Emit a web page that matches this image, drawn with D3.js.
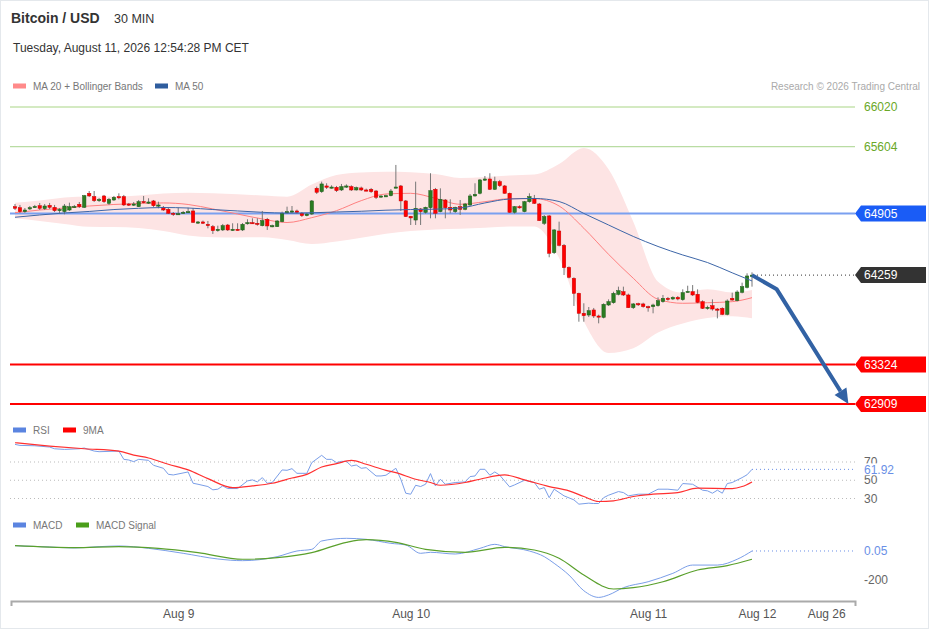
<!DOCTYPE html>
<html>
<head>
<meta charset="utf-8">
<script src="https://cdn.jsdelivr.net/npm/d3@7"></script>
<style>
body { margin: 0; background: #fff; }
svg { display: block; font-family: "Liberation Sans", Arial, sans-serif; }
</style>
</head>
<body>
<svg id="chart" width="929" height="629"></svg>
<script>
// 30 min candles, [open, high, low, close]
var candles = [
[64976,65004,64941,64959],[64965,64994,64910,64924],[64924,64962,64910,64941],[64952,64983,64941,64965],
[64973,64994,64962,64978],[64986,65015,64941,64959],[64955,65004,64941,64983],[64990,65015,64952,64969],
[64969,64994,64920,64934],[64934,64962,64910,64947],[64924,65004,64896,64983],[64941,65018,64931,64976],
[64976,64994,64962,64978],[65001,65025,64962,64976],[64969,65099,64962,65091],[65116,65140,65077,65088],
[65081,65140,65025,65039],[65046,65067,65025,65051],[65088,65099,65015,65028],[65011,65067,64994,65053],
[65046,65088,65036,65074],[65081,65116,65053,65077],[65081,65099,64983,64994],[65004,65015,64983,64999],
[64999,65025,64983,65004],[64976,65046,64973,65028],[65030,65088,65011,65020],[65020,65064,65004,65025],
[65036,65046,64973,64986],[64986,65028,64959,64994],[64969,64983,64931,64941],[64948,64962,64899,64907],
[64907,64920,64879,64899],[64899,64965,64889,64903],[64910,64931,64899,64917],[64917,64965,64910,64924],
[64931,64962,64805,64812],[64812,64826,64795,64816],[64816,64830,64795,64802],[64791,64826,64749,64777],
[64767,64784,64690,64725],[64725,64777,64714,64739],[64732,64795,64721,64777],[64784,64795,64721,64732],
[64732,64802,64721,64739],[64739,64802,64725,64735],[64732,64805,64721,64791],[64798,64844,64788,64809],
[64809,64854,64795,64802],[64802,64854,64777,64791],[64777,64931,64770,64830],[64844,64858,64732,64774],
[64774,64788,64760,64777],[64767,64836,64763,64826],[64819,64924,64812,64907],[64917,64976,64903,64924],
[64924,64983,64910,64931],[64931,64945,64903,64917],[64907,64920,64868,64882],[64882,64910,64875,64899],
[64899,65046,64889,65036],[65169,65186,65109,65127],[65133,65238,65120,65214],[65193,65221,65161,65179],
[65179,65200,65165,65182],[65179,65193,65130,65144],[65151,65214,65140,65186],[65186,65210,65172,65193],
[65186,65200,65140,65151],[65151,65186,65144,65175],[65172,65186,65140,65151],[65151,65165,65137,65148],
[65158,65172,65120,65133],[65140,65151,65056,65074],[65081,65095,65070,65088],[65088,65102,65077,65091],
[65091,65161,65084,65140],[65176,65413,65168,65182],[65193,65203,64931,65036],[65036,65046,64868,64872],
[64875,64879,64784,64858],[64836,65238,64784,64959],[64952,64962,64784,64924],[64917,64976,64903,64969],
[64965,65326,64854,65144],[65158,65172,64854,64907],[64924,65168,64917,65053],[65046,65056,64854,64965],
[64969,65053,64907,64941],[64924,64976,64910,64969],[64976,65046,64889,64948],[64948,65015,64938,65004],
[64994,65109,64983,65088],[65088,65221,65081,65105],[65116,65266,65105,65256],[65256,65297,65245,65266],
[65266,65326,65151,65158],[65158,65290,65151,65238],[65238,65256,65182,65196],[65193,65203,65112,65116],
[65116,65123,64910,64917],[64917,64983,64903,64976],[64976,64990,64955,64969],[64924,65036,64917,65028],
[65028,65116,65018,65081],[65064,65099,65004,65011],[65004,65015,64826,64830],[64802,64889,64784,64872],
[64879,64889,64446,64488],[64494,64742,64480,64732],[64721,64819,64560,64571],[64571,64585,64260,64337],
[64340,64350,64225,64236],[64225,64236,63936,64068],[64068,64075,63771,63859],[63859,63964,63771,63834],
[63841,63925,63820,63886],[63894,63915,63810,63831],[63831,63845,63754,63824],[63817,63964,63806,63953],
[63946,64005,63936,63981],[63970,64085,63960,64068],[64058,64138,64047,64096],[64085,64138,64040,64051],
[64051,64065,63915,63918],[63918,63967,63904,63957],[63960,63970,63936,63953],[63957,63970,63918,63929],
[63929,63939,63876,63922],[63929,63960,63859,63946],[63939,64026,63929,63991],[63981,64051,63970,64016],
[64016,64030,63991,64009],[64009,64037,63998,64026],[64026,64040,63995,64009],[64002,64110,63991,64075],
[64085,64148,64075,64089],[64085,64155,64040,64051],[64058,64110,63965,63974],[63981,63995,63904,63911],
[63915,63939,63897,63922],[63939,64005,63887,63904],[63904,63915,63806,63897],[63911,63922,63840,63848],
[63848,64005,63838,63988],[64016,64075,63991,63998],[63991,64100,63984,64082],[64079,64180,64068,64138],
[64131,64278,64120,64250],[64243,64288,64138,64259]
];

// moving averages, read every 5 candles
var maIdx   = [0,5,10,15,20,25,30,35,40,45,50,55,60,65,70,75,80,85,90,95,100,105,110,115,120,125,130,135,140,145,149];
var ma20    = [64913,64941,64962,64983,64999,65009,65015,64999,64952,64899,64847,64810,64861,64934,65039,65109,65116,65064,65001,65028,65060,65060,64983,64750,64477,64226,64006,63964,63970,63981,64023];
var ma50    = [64865,64889,64910,64926,64946,64959,64967,64962,64946,64931,64917,64908,64912,64920,64928,64939,64946,64950,64962,65015,65056,65062,65030,64905,64784,64664,64559,64470,64391,64283,64198];
var bbUpper = [65018,65041,65072,65083,65083,65093,65114,65122,65117,65106,65093,65081,65208,65308,65334,65342,65337,65318,65277,65287,65303,65313,65423,65591,65368,64819,64190,64075,64111,64077,64103];
var bbLower = [64854,64826,64795,64766,64763,64753,64721,64674,64656,64653,64655,64627,64585,64611,64651,64692,64721,64737,64744,64755,64767,64768,64438,63775,63443,63493,63658,63752,63810,63828,63807];

// RSI and its 9 period average, [candle, value]
var rsi = [[0,89.3],[1,88.2],[4,87.8],[7,86.4],[8,84.5],[10,83.8],[13,84.5],[14,85.3],[16,82],[17,81.3],[21,82],[22,72.9],
[23,72.2],[24,70.4],[25,72.9],[27,71.8],[28,66.4],[30,63.1],[31,56.5],[32,55.8],[35,59.1],[36,46.7],[37,45.6],[39,43.1],
[40,39.5],[41,40.2],[42,43.8],[43,40.9],[45,40.9],[47,49.3],[48,50.4],[49,48.2],[50,52.9],[51,46.7],[52,47.5],[54,61.3],
[55,60.9],[56,62.7],[57,57.6],[59,57.6],[60,69.3],[62,77.3],[63,72.9],[64,72.9],[65,69.3],[66,70.7],[67,70.7],[68,65.6],
[69,66.7],[70,63.1],[71,63.8],[73,54.7],[74,54.7],[75,55.5],[77,63.1],[78,51.1],[79,35.8],[80,34.7],[81,44.5],[82,43.1],
[83,45.6],[84,57.3],[85,43.8],[86,51.1],[87,45.6],[89,47.5],[91,48.2],[92,54],[93,54.7],[94,62],[95,62],[96,55.5],
[97,59.1],[98,55.5],[100,42.7],[101,44.9],[103,50],[105,47.5],[106,40.2],[107,42],[108,30.9],[109,40.2],[111,32.9],
[113,28.5],[114,23.8],[116,24.9],[117,24.5],[118,24.5],[119,30.9],[120,33.6],[122,37.6],[123,36.5],[124,32.9],[126,34.7],
[128,34.7],[130,40.2],[132,40.2],[134,39.1],[135,46.4],[137,45.6],[139,39.1],[140,38.4],[141,35.8],[142,39.1],[143,35.8],
[144,46.4],[145,47.5],[147,52.9],[148,56],[149,61.92]];
var rsiMA = [[0,91.1],[7,87.5],[14,84.5],[21,82],[24,77.6],[27,74.4],[31,67.5],[35,61.3],[39,51.8],[44,42],[48,43.8],
[52,46.7],[56,52.5],[59,56.5],[62,64.5],[65,68.2],[68,71.8],[71,67.5],[75,60.9],[77,58.4],[81,51.1],[84,47.5],[86,44.5],
[91,47.5],[94,51.1],[99,55.8],[103,50.4],[108,43.1],[112,38.4],[115,32.2],[118,26.7],[121,27.5],[125,32.2],[129,34.7],
[134,36.5],[138,41.3],[145,40.9],[147,43.1],[149,48.2]];

// MACD and signal, [candle, value]
var macd = [[0,36.6],[7,27.6],[12,20.7],[17,29.9],[21,34.5],[27,18.4],[34,-16],[41,-55],[46,-66.7],[53,-39],[57,0],
[60,11.5],[62,69],[67,87.4],[71,80.5],[76,52.9],[79,41.4],[82,-16],[84,-9],[89,-20.7],[94,18.4],[97,46],[99,29.9],
[104,0],[107,-39],[109,-85],[112,-166],[115,-274],[118,-320],[120,-303],[123,-253],[128,-212],[133,-154],[137,-97],
[142,-97],[146,-57],[149,0.05]];
var macdSignal = [[0,36.6],[12,23],[21,29.9],[29,18.4],[37,-11.5],[46,-57],[53,-46],[60,-11.5],[67,59.8],[71,78],
[77,59.8],[83,11.5],[91,-9],[99,25.3],[105,6.9],[110,-50.6],[115,-166],[121,-262],[125,-253],[131,-212],[138,-131],
[144,-101],[149,-57]];

var levelValues = [66020, 65604, 64905, 63324, 62909];
var levelKinds  = ["res", "res", "pivot", "sup", "sup"];
var lastPrice = 64259;
var forecast = [[149, 64259], [154, 64110], [168.5, 62909]];

var tickIdx = [33, 80, 128, 150, 164];
var tickLabels = ["Aug 9", "Aug 10", "Aug 11", "Aug 12", "Aug 26"];
var rsiLevels = [70, 50, 30];
var macdTicks = [-200];

var svg = d3.select("#chart");

var x = d3.scaleLinear().domain([0, 149]).range([15, 752]);
var y = d3.scaleLinear().domain([62909, 66020]).range([404, 107]);
var yRsi = d3.scaleLinear().domain([30, 70]).range([498.5, 462]);
var yMacd = d3.scaleLinear().domain([-200, 0]).range([580, 551]);
var LEFT = 10, RIGHT = 855;

svg.append("rect").attr("x", 0.5).attr("y", 0.5).attr("width", 928).attr("height", 628)
    .style("fill", "#fff").style("stroke", "#e4e8ec");

// header
svg.append("text").attr("x", 11).attr("y", 23).text("Bitcoin / USD")
    .style("font-size", "14px").style("font-weight", "bold").style("fill", "#333");
svg.append("text").attr("x", 114).attr("y", 23).text("30 MIN")
    .style("font-size", "12.5px").style("fill", "#333");
svg.append("text").attr("x", 13).attr("y", 52).text("Tuesday, August 11, 2026 12:54:28 PM CET")
    .style("font-size", "12px").style("fill", "#333");

function legend(items, yy) {
    items.forEach(function(it) {
        svg.append("rect").attr("x", it[0]).attr("y", yy - 2.5).attr("width", 13).attr("height", 5).style("fill", it[2]);
        svg.append("text").attr("x", it[0] + 20).attr("y", yy).attr("dy", "0.35em").text(it[1])
            .style("font-size", "10px").style("fill", "#777");
    });
}
legend([[13, "MA 20 + Bollinger Bands", "#ff8a8a"], [155, "MA 50", "#2f5d9e"]], 86);
legend([[13, "RSI", "#5b84e0"], [63, "9MA", "#ff0000"]], 430);
legend([[13, "MACD", "#5b84e0"], [76, "MACD Signal", "#4a9e1a"]], 525);

svg.append("text").attr("x", 920).attr("y", 86).attr("dy", "0.35em").attr("text-anchor", "end")
    .text("Research \u00a9 2026 Trading Central").style("font-size", "10px").style("fill", "#aaa");

// bollinger band + moving averages
var bandData = maIdx.map(function(d, i) { return {i: d, up: bbUpper[i], lo: bbLower[i]}; });
svg.append("path").datum(bandData)
    .attr("d", d3.area().curve(d3.curveMonotoneX)
        .x(function(d) { return x(d.i); }).y0(function(d) { return y(d.lo); }).y1(function(d) { return y(d.up); }))
    .style("fill", "#fde4e4");

// level lines
var levelColor = {res: "#a8d48c", pivot: "#7aa0f0", sup: "#ff0000"};
levelValues.forEach(function(v, k) {
    svg.append("line").attr("x1", LEFT).attr("x2", RIGHT).attr("y1", y(v)).attr("y2", y(v))
        .style("stroke", k == 0 ? "#c6e3ae" : levelColor[levelKinds[k]])
        .style("stroke-width", levelKinds[k] == "res" ? (k == 0 ? 1.5 : 1) : 2);
});

var line = function(xs, ys, yscale) {
    return d3.line().curve(d3.curveMonotoneX).x(function(d, i) { return x(xs[i]); }).y(function(d) { return yscale(d); })(ys);
};
svg.append("path").attr("d", line(maIdx, ma20, y)).style("fill", "none").style("stroke", "#ff8080").style("stroke-width", 1);

// candles
var c = svg.append("g");
candles.forEach(function(d, i) {
    var up = d[3] >= d[0];
    c.append("line").attr("x1", x(i)).attr("x2", x(i)).attr("y1", y(d[1])).attr("y2", y(d[2]))
        .style("stroke", "#777").style("stroke-width", 1);
    var top = y(Math.max(d[0], d[3])), bot = y(Math.min(d[0], d[3]));
    c.append("rect").attr("x", x(i) - 1.7).attr("width", 3.4)
        .attr("y", top).attr("height", Math.max(1.2, bot - top))
        .style("fill", up ? "#2a7d22" : "#ff0000")
        .style("stroke", up ? "#1d5a18" : "#c80000").style("stroke-width", 0.5);
});

svg.append("path").attr("d", line(maIdx, ma50, y)).style("fill", "none").style("stroke", "#3d66a8").style("stroke-width", 1);

// last price dotted line
svg.append("line").attr("x1", x(149) + 5).attr("x2", RIGHT).attr("y1", y(lastPrice)).attr("y2", y(lastPrice))
    .style("stroke", "#333").style("stroke-dasharray", "1,3");

// forecast arrow
var fp = forecast.map(function(d) { return [x(d[0]), y(d[1])]; });
var a = fp[1], b = fp[2];
var len = Math.hypot(b[0] - a[0], b[1] - a[1]);
var ux = (b[0] - a[0]) / len, uy = (b[1] - a[1]) / len;
var base = [b[0] - 15 * ux, b[1] - 15 * uy];
svg.append("path").attr("d", d3.line()([fp[0], fp[1], base]))
    .style("fill", "none").style("stroke", "#3262a4").style("stroke-width", 4).style("stroke-linejoin", "miter");
svg.append("path").attr("d", d3.line()([b, [base[0] - 7 * uy, base[1] + 7 * ux], [base[0] + 7 * uy, base[1] - 7 * ux]]) + "Z")
    .style("fill", "#3262a4");

// right labels
function tag(v, txt, fill, yscale) {
    var yy = yscale(v);
    svg.append("path").attr("d", "M" + RIGHT + "," + yy + "L861," + (yy - 8) + "L926," + (yy - 8) + "L926," + (yy + 8) + "L861," + (yy + 8) + "Z")
        .style("fill", fill);
    svg.append("text").attr("x", 864).attr("y", yy).attr("dy", "0.35em").text(txt)
        .style("font-size", "12px").style("fill", "#fff");
}
var tagFill = {pivot: "#1a5cf6", sup: "#ff0000"};
levelValues.forEach(function(v, k) {
    if (levelKinds[k] == "res") {
        svg.append("text").attr("x", 864).attr("y", y(v)).attr("dy", "0.35em").text(v)
            .style("font-size", "12px").style("fill", "#6aa827");
    } else {
        tag(v, v, tagFill[levelKinds[k]], y);
    }
});
tag(lastPrice, lastPrice, "#333", y);

// RSI panel
rsiLevels.forEach(function(v) {
    svg.append("line").attr("x1", LEFT).attr("x2", RIGHT).attr("y1", yRsi(v)).attr("y2", yRsi(v))
        .style("stroke", "#bbb").style("stroke-dasharray", "1,3");
    svg.append("text").attr("x", 864).attr("y", yRsi(v)).attr("dy", "0.35em").text(v)
        .style("font-size", "12px").style("fill", "#666");
});
var pts = d3.line().x(function(d) { return x(d[0]); });
svg.append("path").attr("d", pts.y(function(d) { return yRsi(d[1]); })(rsi))
    .style("fill", "none").style("stroke", "#7a9ee8").style("stroke-width", 1);
svg.append("path").attr("d", pts.curve(d3.curveMonotoneX).y(function(d) { return yRsi(d[1]); })(rsiMA))
    .style("fill", "none").style("stroke", "#ff3030").style("stroke-width", 1.2);
var lastRsi = rsi[rsi.length - 1][1];
svg.append("line").attr("x1", x(149)).attr("x2", RIGHT).attr("y1", yRsi(lastRsi)).attr("y2", yRsi(lastRsi))
    .style("stroke", "#6a8fe6").style("stroke-dasharray", "1,3");
svg.append("rect").attr("x", 861).attr("y", yRsi(lastRsi) - 6).attr("width", 40).attr("height", 12).style("fill", "#fff");
svg.append("text").attr("x", 864).attr("y", yRsi(lastRsi)).attr("dy", "0.35em").text(lastRsi.toFixed(2))
    .style("font-size", "12px").style("fill", "#6a8fe6");

// MACD panel
var mline = d3.line().curve(d3.curveMonotoneX).x(function(d) { return x(d[0]); }).y(function(d) { return yMacd(d[1]); });
svg.append("path").attr("d", mline(macd)).style("fill", "none").style("stroke", "#7a9ee8").style("stroke-width", 1);
svg.append("path").attr("d", mline(macdSignal)).style("fill", "none").style("stroke", "#5aa02c").style("stroke-width", 1.2);
var lastMacd = macd[macd.length - 1][1];
svg.append("line").attr("x1", x(149)).attr("x2", RIGHT).attr("y1", yMacd(lastMacd)).attr("y2", yMacd(lastMacd))
    .style("stroke", "#6a8fe6").style("stroke-dasharray", "1,3");
svg.append("text").attr("x", 864).attr("y", yMacd(lastMacd)).attr("dy", "0.35em").text(lastMacd.toFixed(2))
    .style("font-size", "12px").style("fill", "#6a8fe6");
macdTicks.forEach(function(v) {
    svg.append("text").attr("x", 864).attr("y", yMacd(v)).attr("dy", "0.35em").text(v)
        .style("font-size", "12px").style("fill", "#666");
});

// time axis
var xAxisScale = d3.scaleLinear().domain([x.invert(11), x.invert(855)]).range([11, 855]);
var ax = svg.append("g").attr("transform", "translate(0,601)")
    .call(d3.axisBottom(xAxisScale).tickValues(tickIdx)
        .tickFormat(function(d, i) { return tickLabels[i]; })
        .tickSizeInner(0).tickSizeOuter(5).tickPadding(8));
ax.select(".domain").style("stroke", "#aaa").style("stroke-width", 2);
ax.selectAll("text").style("font-size", "12px").style("fill", "#555")
    .style("font-family", "\"Liberation Sans\", Arial, sans-serif");
</script>
</body>
</html>
